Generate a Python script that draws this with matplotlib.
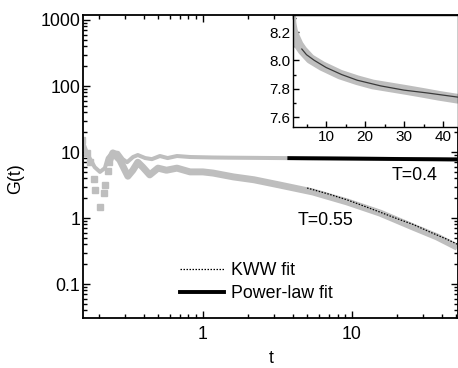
import matplotlib
matplotlib.use('Agg')
import matplotlib.pyplot as plt
from matplotlib.ticker import NullFormatter, LogLocator, MultipleLocator, FuncFormatter

plt.rcParams['font.family'] = ['Liberation Sans', 'DejaVu Sans']

# ---- data ----
# T = 0.4 (upper curve)
t_04 = [0.155, 0.166, 0.174, 0.188, 0.204, 0.22, 0.23, 0.249, 0.27, 0.29, 0.31, 0.34,
        0.366, 0.41, 0.455, 0.515, 0.58, 0.67, 0.82, 1.0, 1.17, 1.5, 2.0, 3.0, 4.0, 6.0,
        9.0, 13.6, 18.0, 22.0, 26.4, 30.8, 35.0, 39.0, 43.6, 51.0]
g_04 = [15.2, 10.0, 8.1, 5.9, 5.0, 5.7, 8.1, 10.0, 9.7, 7.8, 7.0, 8.4,
        9.0, 8.1, 7.8, 8.7, 8.1, 8.7, 8.4, 8.32, 8.26, 8.21, 8.17, 8.11, 8.07, 8.01,
        7.96, 7.9, 7.86, 7.83, 7.81, 7.79, 7.77, 7.75, 7.73, 7.71]

# T = 0.55 (lower curve); first points are sparse squares
n_sparse = 10
t_055 = [0.155, 0.166, 0.174, 0.186, 0.19, 0.204, 0.216, 0.222, 0.23, 0.234,
         0.249, 0.277, 0.314, 0.339, 0.366, 0.395, 0.44, 0.5, 0.57, 0.67, 0.82,
         1.0, 1.17, 1.6, 2.2, 3.28, 5.47, 9.3, 15.4, 25.7, 37.0, 51.0]
g_055 = [15.0, 9.7, 7.0, 3.9, 2.65, 1.47, 2.4, 3.2, 5.2, 7.0,
         9.7, 7.6, 4.3, 5.3, 7.0, 5.9, 4.5, 5.7, 5.3, 5.7, 5.0,
         5.0, 4.8, 4.2, 3.8, 3.16, 2.48, 1.75, 1.19, 0.73, 0.52, 0.36]

# Power-law fit (T=0.4)
t_pl = [3.8, 5.0, 7.0, 10.0, 14.0, 18.0, 24.0, 30.0, 36.0, 44.0, 51.0]
g_pl = [8.08, 8.04, 8.0, 7.95, 7.9, 7.86, 7.82, 7.79, 7.77, 7.74, 7.72]

# KWW fit (T=0.55)
t_kww = [5.0, 7.0, 9.3, 12.0, 15.4, 20.0, 25.7, 33.0, 43.0, 51.0]
g_kww = [2.85, 2.3, 1.88, 1.52, 1.23, 0.98, 0.8, 0.62, 0.48, 0.40]

y_ticks = [0.1, 1, 10, 100, 1000]
y_ticklabels = ['0.1', '1', '10', '100', '1000']
x_ticks = [1, 10]
x_ticklabels = ['1', '10']
inset_xticks = [10, 20, 30, 40]
inset_yticks = [7.6, 7.8, 8.0, 8.2]

gray = '#bebebe'
W, H = 458, 368
fig = plt.figure(figsize=(W / 100, H / 100), dpi=100)

def fx(px):
    return px / W

def fy(py):
    return 1 - py / H

L, R, T, B = 83, 457.5, 15, 318
ax = fig.add_axes([fx(L), fy(B), fx(R) - fx(L), fy(T) - fy(B)])
ax.set_xscale('log')
ax.set_yscale('log')
ax.set_xlim(0.157, 51)
ax.set_ylim(0.0306, 1190)

# data
ax.plot(t_04, g_04, color=gray, lw=2.9, solid_joinstyle='round', zorder=2)
ax.plot(t_055[:n_sparse], g_055[:n_sparse], ls='none', marker='s', ms=4.3,
        mec=gray, mfc=gray, zorder=2)
ax.plot(t_055[n_sparse - 1:], g_055[n_sparse - 1:], color=gray, lw=5.0,
        solid_joinstyle='round', solid_capstyle='butt', zorder=2)
pl_line, = ax.plot(t_pl, g_pl, color='black', lw=2.8, zorder=3)
kww_line, = ax.plot(t_kww, g_kww, color='black', lw=0.9, ls=(0, (1.2, 1.2)), zorder=3)

ax.set_xticks(x_ticks)
ax.set_xticklabels(x_ticklabels)
ax.set_yticks(y_ticks)
ax.set_yticklabels(y_ticklabels)
ax.xaxis.set_minor_locator(LogLocator(base=10, subs=range(2, 10), numticks=20))
ax.yaxis.set_minor_locator(LogLocator(base=10, subs=range(2, 10), numticks=20))
ax.xaxis.set_minor_formatter(NullFormatter())
ax.yaxis.set_minor_formatter(NullFormatter())
ax.tick_params(which='both', direction='in', top=True, right=True, width=1.0,
               labelsize=12.8, pad=2)
ax.tick_params(which='major', length=5)
ax.tick_params(which='minor', length=3)
ax.tick_params(axis='x', which='major', pad=6)
for s in ax.spines.values():
    s.set_linewidth(1.3)

fig.text(fx(415), fy(175), 'T=0.4', fontsize=12.8, ha='center', va='center')
fig.text(fx(326), fy(221), 'T=0.55', fontsize=12.8, ha='center', va='center')
fig.text(fx(16), fy(179), 'G(t)', fontsize=12.8, rotation=90, ha='center', va='center')
fig.text(fx(271), fy(367), 't', fontsize=12.8, ha='center', va='bottom')

leg = ax.legend([kww_line, pl_line], ['KWW fit', 'Power-law fit'], frameon=False,
                loc='center left', bbox_to_anchor=((180 - L) / (R - L), (B - 282) / (B - T)),
                borderaxespad=0, borderpad=0, handlelength=2.5, handletextpad=0.35,
                labelspacing=0.32, fontsize=12.8)

# inset
iL, iR, iT, iB = 293, 457.5, 15, 127
ax2 = fig.add_axes([fx(iL), fy(iB), fx(iR) - fx(iL), fy(iT) - fy(iB)])
ax2.set_facecolor('white')
ax2.plot(t_04, g_04, color=gray, lw=7.0, solid_joinstyle='round', zorder=2)
ax2.plot(t_pl, g_pl, color='#3a3a3a', lw=0.9, zorder=3)
ax2.set_xlim(1.54, 43.7)
ax2.set_ylim(7.53, 8.32)
ax2.set_xticks(inset_xticks)
ax2.set_yticks(inset_yticks)
ax2.yaxis.set_major_formatter(FuncFormatter(lambda v, p: f'{v:.1f}'))
ax2.xaxis.set_minor_locator(MultipleLocator(5))
ax2.yaxis.set_minor_locator(MultipleLocator(0.1))
ax2.tick_params(which='both', direction='in', labelsize=11, pad=2, width=1.0)
ax2.tick_params(which='major', length=4)
ax2.tick_params(which='minor', length=2.5)
for s in ax2.spines.values():
    s.set_linewidth(1.0)

fig.savefig('out.png', dpi=100)
